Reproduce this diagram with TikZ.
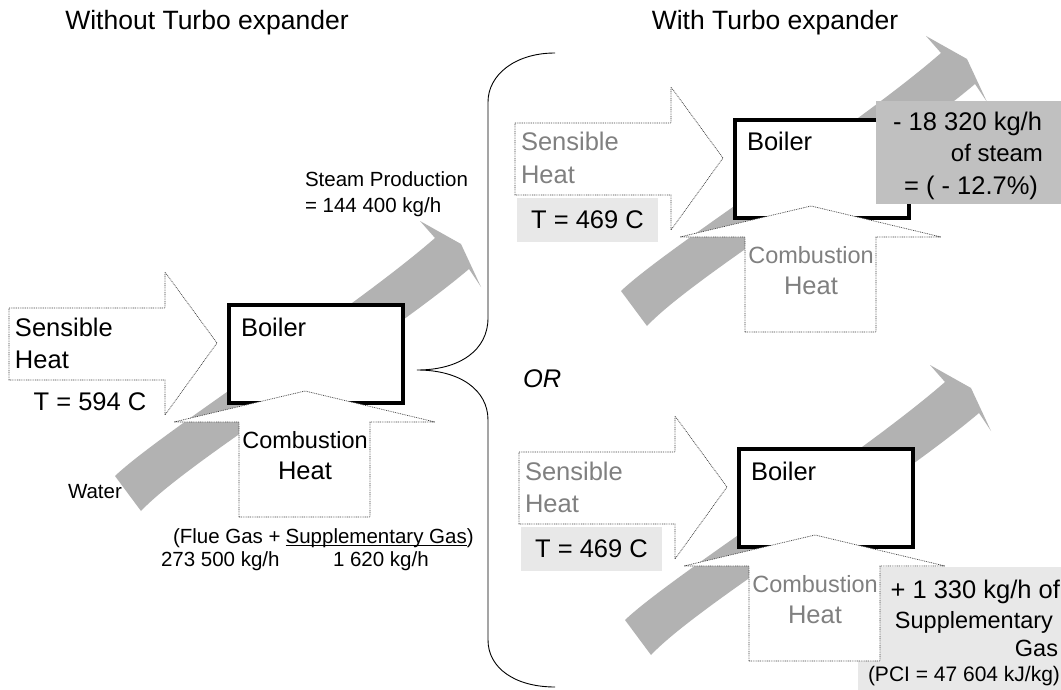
\documentclass[tikz,border=0pt]{standalone}
\usepackage{fontspec}
\setmainfont{Liberation Sans}
\newcommand{\fs}[1]{\fontsize{#1}{#1}\selectfont}
\definecolor{bandgray}{RGB}{178,178,178}
\definecolor{darkbox}{RGB}{192,192,192}
\definecolor{lightbox}{RGB}{232,232,232}
\definecolor{softtext}{RGB}{128,128,128}
\tikzset{
  txt/.style={inner sep=0pt, outer sep=0pt},
  boilerbox/.style={draw=black, line width=4.5pt, fill=white, inner sep=0pt, outer sep=0pt,
     minimum width=174pt, minimum height=98pt, anchor=north west},
  dotarrow/.style={draw=black!75, line width=0.7pt, dash pattern=on 0.9pt off 0.9pt, fill=white},
  tbox/.style={fill=lightbox, inner sep=0pt, minimum width=141pt, minimum height=44pt, font=\fs{25.5}},
  bracestyle/.style={draw=black, line width=0.9pt},
}
\newcommand{\boilerunit}[5]{%
\begin{scope}[shift={(#2,#3)}]
  \fill[bandgray] (-114,171) .. controls (-69,128) and (120,8) .. (206,-67)
     -- (191,-84) -- (232,-61) -- (252,-18) -- (240,-36)
     .. controls (150,40) and (-40,155) .. (-88,206) -- cycle;
  \node[boilerbox] (#1boiler) at (0,0) {};
  \node[txt, anchor=base west, font=\fs{25.5}] (#1boilerlabel) at (12,31) {Boiler};
  \path[dotarrow] (-220,3) -- (-64,3) -- (-64,-33) -- (-12,38) -- (-64,110) -- (-64,75) -- (-220,75) -- cycle;
  \node[txt, anchor=base west, text=#4, font=\fs{25.5}] (#1sens) at (-214,31) {Sensible};
  \node[txt, anchor=base west, text=#4, font=\fs{25.5}] (#1sensheat) at (-214,63) {Heat};
  \path[dotarrow] (10,212) -- (10,117) -- (-55,117) -- (76,86) -- (206,117) -- (141,117) -- (141,212) -- cycle;
  \node[txt, anchor=base, text=#5, font=\fs{23.5}] (#1comb) at (76,143) {Combustion};
  \node[txt, anchor=base, text=#5, font=\fs{25.5}] (#1combheat) at (76,174) {Heat};
\end{scope}}
\begin{document}
\begin{tikzpicture}[x=1pt, y=-1pt]
\useasboundingbox (0,0) rectangle (1061,690);
\fill[white] (0,0) rectangle (1061,690);

% titles
\node[txt, anchor=base, font=\fs{26.5}] (title1) at (207,30) {Without Turbo expander};
\node[txt, anchor=base, font=\fs{26.5}] (title2) at (775,30) {With Turbo expander};

% ---- without turbo expander
\boilerunit{a}{229}{305}{black}{black}
\node[txt, anchor=base, font=\fs{25.5}] (atemp) at (90,410) {T = 594 C};
\node[txt, anchor=base west, font=\fs{20.5}] (water) at (68,498) {Water};
\node[txt, anchor=base west, font=\fs{20.5}] (steam1) at (305,187) {Steam Production};
\node[txt, anchor=base west, font=\fs{20.5}] (steam2) at (305,212) {= 144 400 kg/h};
\node[txt, anchor=base west, font=\fs{20.5}] (flueA) at (173,543) {(Flue Gas +};
\node[txt, anchor=base west, font=\fs{20.5}] (flueB) at ([xshift=5pt]flueA.base east) {Supplementary Gas};
\node[txt, anchor=base west, font=\fs{20.5}] (flueC) at (flueB.base east) {)};
\draw[line width=1pt] ([yshift=-2.5pt]flueB.base west) -- ([yshift=-2.5pt]flueB.base east);
\node[txt, anchor=base west, font=\fs{20.5}] (flueflow) at (161,566) {273 500 kg/h};
\node[txt, anchor=base west, font=\fs{20.5}] (suppflow) at (333,566) {1 620 kg/h};

% brace
\draw[bracestyle] (555,53) .. controls (515,53) and (488,75) .. (488,102) -- (488,318)
   .. controls (488,350) and (460,370) .. (417,370)
   .. controls (460,370) and (488,390) .. (488,420) -- (488,640)
   .. controls (488,668) and (515,687) .. (555,687);

% ---- with turbo expander, case 1
\boilerunit{b}{735}{120}{softtext}{softtext}
\node[tbox] (btemp) at (587.5,220) {T = 469 C};
\fill[darkbox] (876,101) rectangle (1061,204);
\node[txt, anchor=base east, font=\fs{25.5}] (bres1) at (1042,131) {- 18 320 kg/h};
\node[txt, anchor=base east, font=\fs{24}] (bres2) at (1043,162) {of steam};
\node[txt, anchor=base east, font=\fs{25.5}] (bres3) at (1038,194) {= ( - 12.7\%)};

\node[txt, anchor=base west, font=\fs{25.5}\itshape] (or) at (523,387) {OR};

% ---- with turbo expander, case 2
\fill[lightbox] (858,567) rectangle (1061,690);
\boilerunit{c}{739}{449}{softtext}{softtext}
\node[tbox] (ctemp) at (591.5,549) {T = 469 C};
\node[txt, anchor=base east, font=\fs{25.5}] (cres1) at (1060,598) {+ 1 330 kg/h of};
\node[txt, anchor=base east, font=\fs{23.5}] (cres2) at (1053,628) {Supplementary};
\node[txt, anchor=base east, font=\fs{23.5}] (cres3) at (1058,656) {Gas};
\node[txt, anchor=base east, font=\fs{21}] (cres4) at (1060,681) {(PCI = 47 604 kJ/kg)};
\end{tikzpicture}
\end{document}
